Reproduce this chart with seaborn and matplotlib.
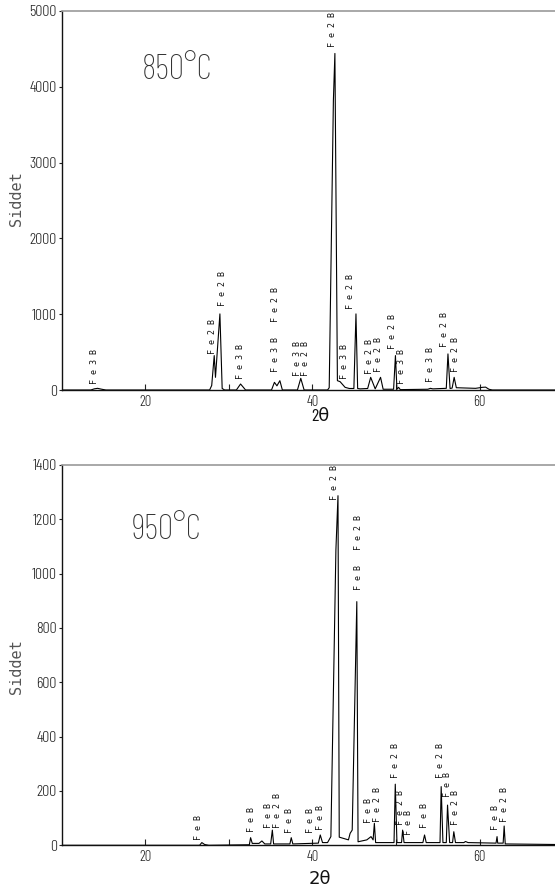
import matplotlib
matplotlib.use("Agg")
import matplotlib.pyplot as plt
import seaborn as sns
import pandas as pd

# ---------------- data ----------------
# 850 °C pattern: vertices of the recorded trace
two_theta_850 = [10.0, 13.5, 13.9, 14.3, 14.8, 15.3, 27.7, 27.95, 28.25, 28.4, 28.93, 29.2, 29.5,
                 30.9, 31.15, 31.4, 31.7, 32.0, 35.1, 35.45, 35.75, 36.1, 36.4, 38.2, 38.6, 39.0,
                 41.8, 42.0, 42.5, 42.68, 42.98, 43.3, 43.9, 44.4, 44.95, 45.2, 45.4, 45.7,
                 46.6, 46.96, 47.5, 48.14, 48.45, 49.7, 49.92, 50.1, 50.3, 50.5,
                 53.8, 54.1, 54.4, 55.5, 56.0, 56.2, 56.45, 56.7, 56.94, 57.2, 59.5, 60.3, 60.7,
                 61.1, 61.5, 69.0]
counts_850 = [0, 0, 15, 22, 10, 0, 0, 60, 454, 167, 1004, 20, 0,
              0, 40, 79, 40, 0, 0, 101, 55, 123, 0, 0, 154, 0,
              0, 30, 3820, 4440, 123, 110, 35, 20, 20, 1004, 20, 15,
              20, 167, 15, 167, 10, 10, 454, 10, 35, 5,
              10, 22, 15, 20, 22, 476, 20, 25, 167, 30, 22, 35, 38,
              10, 0, 0]

# 950 °C pattern
two_theta_950 = [10.0, 26.5, 26.77, 27.1, 27.6, 32.45, 32.6, 32.8, 33.6, 33.95, 34.3, 35.0, 35.2, 35.35,
                 37.3, 37.46, 37.65, 40.7, 40.93, 41.2, 41.8, 42.2, 42.8, 43.05, 43.2, 44.3, 44.5,
                 44.75, 45.3, 45.45,
                 46.5, 47.0, 47.25, 47.4, 47.55, 49.75, 49.9, 50.1, 50.65, 50.78, 50.95, 53.2, 53.4, 53.6,
                 55.25, 55.39, 55.6, 56.0, 56.15, 56.4, 56.75, 56.9, 57.1, 58.1, 58.3, 58.6, 61.95,
                 62.07, 62.15,
                 62.8, 62.92, 63.05, 69.0]
counts_950 = [0, 0, 10, 3, 0, 2, 28, 7, 7, 16, 5, 5, 56, 5,
              5, 28, 5, 8, 38, 10, 10, 32, 1087, 1287, 30, 20, 44,
              56, 897, 13,
              20, 32, 20, 81, 10, 10, 225, 10, 10, 56, 10, 10, 38, 10,
              10, 216, 10, 10, 148, 10, 10, 50, 10, 10, 14, 10, 8,
              32, 8,
              8, 71, 5, 3]

# phase labels (position of the label foot)
label_x_850 = [13.99, 28.04, 29.23, 31.43, 35.57, 38.2, 39.13, 42.34, 43.78, 44.55, 46.87, 47.85,
               49.54, 50.6, 54.07, 55.84, 57.11]
label_y_850 = [79, 476, 1114, 145, 233, 189, 189, 4528, 145, 1070, 211, 233, 542, 79, 101, 564, 233]
label_t_850 = ["Fe3B", "Fe2B", "Fe2B", "Fe3B", "Fe3B Fe2B", "Fe3B", "Fe2B", "Fe2B", "Fe3B", "Fe2B",
               "Fe2B", "Fe2B", "Fe2B", "Fe3B", "Fe3B", "Fe2B", "Fe2B"]

label_x_950 = [26.43, 32.68, 34.8, 35.86, 37.25, 39.75, 40.93, 42.62, 45.45, 46.72, 47.82, 49.94,
               50.57, 51.5, 53.4, 55.3, 56.15, 57.12, 61.86, 62.92]
label_y_950 = [20, 50, 63, 63, 44, 44, 56, 1271, 940, 81, 87, 247, 75, 38, 63, 247, 179, 75, 56, 87]
label_t_950 = ["FeB", "FeB", "FeB", "Fe2B", "FeB", "FeB", "FeB", "Fe2B", "FeB Fe2B", "FeB", "Fe2B",
               "Fe2B", "Fe2B", "FeB", "FeB", "Fe2B", "FeB", "Fe2B", "FeB", "Fe2B"]

x_major = [20, 40, 60]
x_minor = [30, 50]
y_ticks_850 = [0, 1000, 2000, 3000, 4000, 5000]
y_ticks_950 = [0, 200, 400, 600, 800, 1000, 1200, 1400]
titles = ["850°C", "950°C"]
y_label = "Siddet"
x_label = "2θ"

# ---------------- style ----------------
sns.set_style("ticks")
NARROW = ["Barlow Condensed", "Roboto Condensed", "Saira Condensed", "Fira Sans Condensed",
          "Liberation Sans", "DejaVu Sans"]
MONO = ["DejaVu Sans Mono", "DejaVu Sans"]
plt.rcParams["font.family"] = NARROW

W, H = 555, 893
fig = plt.figure(figsize=(W / 100, H / 100), dpi=100)


def box(left, top, right, bottom):
    return [left / W, 1 - bottom / H, (right - left) / W, (bottom - top) / H]


ax1 = fig.add_axes(box(61.6, 11, 555, 390))
ax2 = fig.add_axes(box(61.6, 465, 555, 845.3))


def panel(ax, xs, ys, lx, ly, lt, yticks, title, tpos, xl_font, xl_size, xl_y, ylab_y):
    df = pd.DataFrame({"two_theta": xs, "counts": ys})
    sns.lineplot(data=df, x="two_theta", y="counts", ax=ax, sort=False, estimator=None,
                 color="black", linewidth=0.8)
    ax.set_xlim(10, 69.0)
    ax.set_ylim(yticks[0], yticks[-1])
    ax.set_xticks(x_major)
    ax.set_xticks(x_minor, minor=True)
    ax.set_yticks(yticks)
    ax.tick_params(axis="x", which="both", direction="in", length=4.5, width=0.8,
                   pad=3.5, labelsize=10.5, colors="#222")
    ax.tick_params(axis="y", direction="out", length=2.5, width=0.8, pad=1,
                   labelsize=11.5, colors="#222")
    for lab in ax.get_xticklabels() + ax.get_yticklabels():
        lab.set_family(NARROW)
        lab.set_fontweight(300)
    ax.spines["right"].set_visible(False)
    ax.spines["top"].set_color("#9a9a9a")
    ax.spines["top"].set_linewidth(1.2)
    for s in ("left", "bottom"):
        ax.spines[s].set_color("#111")
        ax.spines[s].set_linewidth(1.0)
    ax.set_ylabel("")
    ax.set_xlabel(x_label, family=xl_font, fontsize=xl_size, color="#111")
    ax.xaxis.set_label_coords(0.524, xl_y)
    ax.text(-0.076, ylab_y, y_label, transform=ax.transAxes, rotation=90,
            ha="right", va="center", family=MONO, fontsize=11, color="#555")
    for x, y, t in zip(lx, ly, lt):
        ax.text(x, y, " ".join(t), rotation=90, ha="center", va="bottom",
                family=MONO, fontsize=6, color="#111")
    ax.text(tpos[0], tpos[1], title, ha="center", va="center", family=NARROW,
            fontsize=25, fontweight=200, color="#333")


panel(ax1, two_theta_850, counts_850, label_x_850, label_y_850, label_t_850,
      y_ticks_850, titles[0], (23.8, 4228), ["Barlow Condensed", "DejaVu Sans"], 13, -0.05, 0.505)
panel(ax2, two_theta_950, counts_950, label_x_950, label_y_950, label_t_950,
      y_ticks_950, titles[1], (22.56, 1159), ["DejaVu Sans"], 13, -0.066, 0.469)

fig.savefig("out.png", dpi=100)
